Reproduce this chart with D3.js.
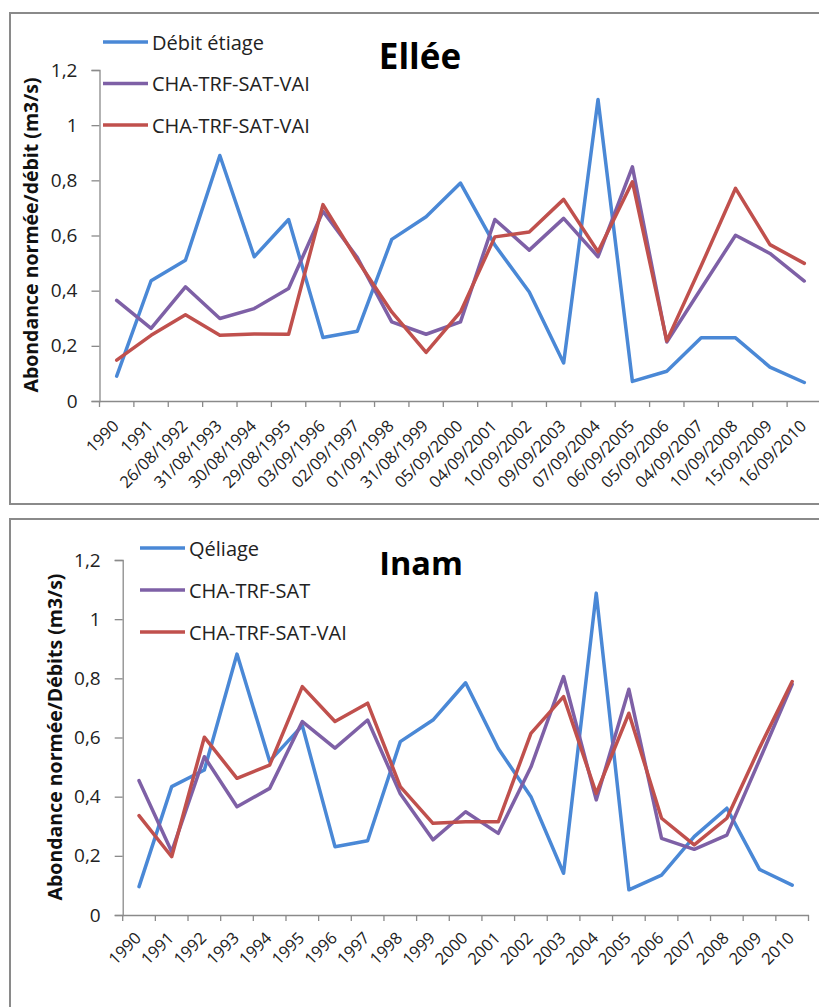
<!DOCTYPE html>
<html>
<head>
<meta charset="utf-8">
<script src="https://cdn.jsdelivr.net/npm/d3@7"></script>
<style>
  html, body { margin: 0; padding: 0; background: #fff; }
  svg { display: block; }
</style>
</head>
<body>
<svg id="chart" width="819" height="1007"></svg>
<script>
// ---------- DATA ----------
const categoriesTop = ["1990","1991","26/08/1992","31/08/1993","30/08/1994","29/08/1995","03/09/1996","02/09/1997","01/09/1998","31/08/1999","05/09/2000","04/09/2001","10/09/2002","09/09/2003","07/09/2004","06/09/2005","05/09/2006","04/09/2007","10/09/2008","15/09/2009","16/09/2010"];
const topBlue   = [0.09,0.436,0.51,0.89,0.523,0.658,0.23,0.253,0.586,0.668,0.79,0.565,0.395,0.138,1.093,0.071,0.108,0.229,0.229,0.123,0.067];
const topPurple = [0.365,0.263,0.414,0.299,0.335,0.408,0.688,0.52,0.287,0.242,0.287,0.658,0.547,0.662,0.523,0.849,0.214,0.408,0.601,0.535,0.435];
const topRed    = [0.148,0.238,0.313,0.238,0.243,0.242,0.712,0.51,0.323,0.176,0.323,0.595,0.613,0.731,0.541,0.795,0.218,0.49,0.771,0.567,0.499];
const topLegend = ["Débit étiage","CHA-TRF-SAT-VAI","CHA-TRF-SAT-VAI"];
const topTitle = "Ellée";
const topYLabel = "Abondance normée/débit (m3/s)";

const categoriesBottom = ["1990","1991","1992","1993","1994","1995","1996","1997","1998","1999","2000","2001","2002","2003","2004","2005","2006","2007","2008","2009","2010"];
const botBlue   = [0.096,0.434,0.49,0.882,0.52,0.64,0.231,0.251,0.586,0.659,0.785,0.563,0.40,0.141,1.088,0.085,0.135,0.265,0.361,0.154,0.101];
const botPurple = [0.454,0.214,0.535,0.366,0.428,0.654,0.564,0.659,0.41,0.254,0.349,0.276,0.50,0.806,0.389,0.763,0.259,0.222,0.27,0.524,0.78];
const botRed    = [0.336,0.197,0.601,0.462,0.507,0.772,0.654,0.716,0.434,0.31,0.315,0.315,0.614,0.738,0.411,0.682,0.327,0.237,0.327,0.565,0.789];
const botLegend = ["Qéliage","CHA-TRF-SAT","CHA-TRF-SAT-VAI"];
const botTitle = "Inam";
const botYLabel = "Abondance normée/Débits (m3/s)";

const yTicks = [0,0.2,0.4,0.6,0.8,1,1.2];
const colors = ["#4a88d6","#7e60a6","#c0504d"];

// ---------- DRAW ----------
const svg = d3.select("#chart");
const FONT = "'Open Sans', 'Liberation Sans', sans-serif";
const fmt = d => String(d).replace(".", ",");

// panel borders
svg.append("rect").attr("x",10).attr("y",13).attr("width",830).attr("height",491)
  .attr("fill","none").attr("stroke","#8a8a8a").attr("stroke-width",2);
svg.append("rect").attr("x",10).attr("y",519).attr("width",830).attr("height",520)
  .attr("fill","none").attr("stroke","#8a8a8a").attr("stroke-width",2);

function drawChart(cfg) {
  const g = svg.append("g");
  const x = d3.scaleBand().domain(cfg.cats).range([cfg.x0, cfg.x1]).paddingInner(0).paddingOuter(0);
  const y = d3.scaleLinear().domain([0,1.2]).range([cfg.y0, cfg.y1]);

  // y axis
  const ya = g.append("g").attr("transform", `translate(${cfg.x0},0)`)
    .call(d3.axisLeft(y).tickValues(yTicks).tickFormat(fmt).tickSize(8).tickPadding(cfg.ypad));
  ya.select(".domain").attr("stroke","#8a8a8a").attr("stroke-width",1.3);
  ya.selectAll(".tick line").attr("stroke","#8a8a8a").attr("stroke-width",1.3);
  ya.selectAll("text").attr("font-family",FONT).attr("font-size",19).attr("fill","#222");

  // x axis
  const xa = g.append("g").attr("transform", `translate(0,${cfg.y0})`)
    .call(d3.axisBottom(x).tickSize(0).tickPadding(0));
  xa.select(".domain").attr("stroke","#8a8a8a").attr("stroke-width",1.3);
  // boundary ticks
  const bounds = cfg.cats.map(c => x(c)).concat([cfg.x1]);
  g.selectAll(".bt").data(bounds).join("line")
    .attr("x1",d=>d).attr("x2",d=>d).attr("y1",cfg.y0).attr("y2",cfg.y0+6)
    .attr("stroke","#8a8a8a").attr("stroke-width",1.3);
  xa.selectAll(".tick text")
    .attr("font-family",FONT).attr("font-size",cfg.xfs).attr("fill","#222")
    .attr("text-anchor","end").attr("dy",null)
    .attr("transform", `translate(${cfg.xdx},${cfg.xdy}) rotate(-45)`)
    .attr("y",0).attr("x",0).attr("dominant-baseline","middle");

  // y label
  g.append("text").attr("transform", `translate(${cfg.ylx},${cfg.yly}) rotate(-90)`)
    .attr("text-anchor","middle").attr("dominant-baseline","central")
    .attr("font-family",FONT).attr("font-weight","bold")
    .attr("font-size",cfg.ylfs).attr("fill","#111").text(cfg.ylabel);

  // lines
  const line = d3.line().x((d,i)=>x(cfg.cats[i]) + x.bandwidth()/2).y(d=>y(d));
  cfg.series.forEach((s,k) => {
    g.append("path").datum(s).attr("d",line).attr("fill","none")
      .attr("stroke",colors[k]).attr("stroke-width",3.5)
      .attr("stroke-linejoin","round").attr("stroke-linecap","round");
  });

  // title
  g.append("text").attr("x",cfg.tx).attr("y",cfg.ty).attr("text-anchor","middle")
    .attr("font-family",FONT).attr("font-weight","bold").attr("font-size",cfg.tfs)
    .attr("fill","#000").text(cfg.title);

  // legend
  cfg.legend.forEach((t,k) => {
    const ly = cfg.ly0 + k*cfg.lstep;
    g.append("line").attr("x1",cfg.lx).attr("x2",cfg.lx+45).attr("y1",ly).attr("y2",ly)
      .attr("stroke",colors[k]).attr("stroke-width",3.5);
    g.append("text").attr("x",cfg.lx+49).attr("y",ly).attr("dominant-baseline","central")
      .attr("font-family",FONT).attr("font-size",20).attr("fill","#222").text(t);
  });
}

drawChart({
  cats: categoriesTop, series: [topBlue, topPurple, topRed],
  x0: 99.5, x1: 821.5, y0: 401, y1: 70, ypad: 14,
  xfs: 16.5, xdx: 0, xdy: 23,
  ylabel: topYLabel, ylx: 30, yly: 235, ylfs: 19.5,
  title: topTitle, tx: 420, ty: 69, tfs: 35,
  legend: topLegend, lx: 103, ly0: 42, lstep: 41.5
});

drawChart({
  cats: categoriesBottom, series: [botBlue, botPurple, botRed],
  x0: 122.7, x1: 808.5, y0: 915, y1: 560, ypad: 14,
  xfs: 16.5, xdx: 0, xdy: 21,
  ylabel: botYLabel, ylx: 54, yly: 737, ylfs: 19.5,
  title: botTitle, tx: 421, ty: 575, tfs: 32.5,
  legend: botLegend, lx: 140, ly0: 548, lstep: 42
});
</script>
</body>
</html>
